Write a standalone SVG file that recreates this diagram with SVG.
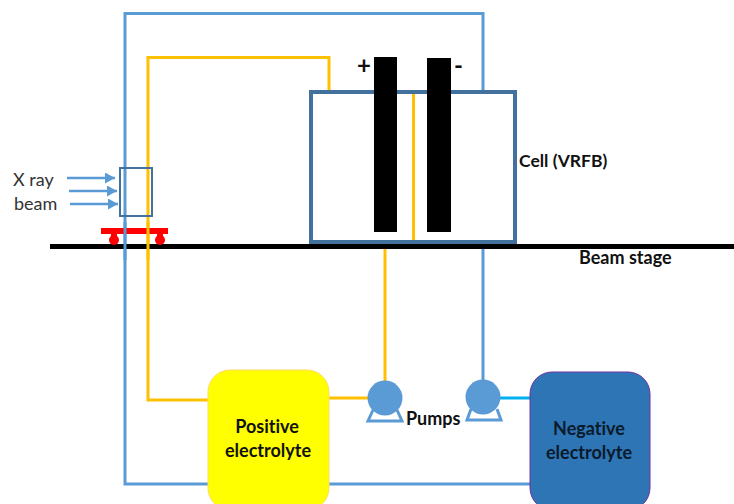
<svg xmlns="http://www.w3.org/2000/svg" width="734" height="504" viewBox="0 0 734 504">
<style>
.y{fill:none;stroke:#ffc000;stroke-width:3}
.b{fill:none;stroke:#5b9bd5;stroke-width:3}
.a{fill:none;stroke:#5b9bd5;stroke-width:2.500;marker-end:url(#ah)}
.t{font-family:Lato,"Open Sans","Liberation Sans",sans-serif;fill:#333;font-size:18px}
.bt{font-family:Lato,"Open Sans","Liberation Sans",sans-serif;font-weight:700;fill:#111;font-size:18px;font-variant-ligatures:none}
</style>
<defs>
<marker id="ah" markerUnits="userSpaceOnUse" markerWidth="12" markerHeight="12" refX="10" refY="5.500" orient="auto"><path d="M0,0L10,5.500L0,11z" fill="#5b9bd5"/></marker>
</defs>
<rect width="734" height="504" fill="#fff"/>
<g id="connectors">
<path class="b" d="M483,92V13.500H125V484H530"/>
<path class="y" d="M329,92V57.500H148V400H208"/>
<path class="y" d="M329,398H385V242"/>
<path class="b" d="M483,242V398"/>
<path d="M500,398H530" fill="none" stroke="#00b0f0" stroke-width="3"/>
<path class="y" d="M413.500,92V242"/>
<path class="a" d="M67,178H115"/>
<path class="a" d="M69,191H117"/>
<path class="a" d="M70,204H118"/>
</g>
<g id="beam-stage">
<path d="M50,246.500H734" stroke="#000" stroke-width="5"/>
<text class="bt" x="579" y="264">Beam stage</text>
</g>
<g id="carriage">
<rect x="101" y="228" width="67" height="6" fill="#f00"/>
<rect x="111" y="233" width="6" height="6" fill="#f00"/>
<rect x="157" y="233" width="6" height="6" fill="#f00"/>
<circle cx="114" cy="240" r="5" fill="#f00"/>
<circle cx="160" cy="240" r="5" fill="#f00"/>
<path class="b" d="M125,222V260"/>
<path class="y" d="M148,222V260"/>
</g>
<g id="sample-box">
<rect x="120" y="168" width="32" height="48" fill="none" stroke="#41719c" stroke-width="2"/>
</g>
<g id="x-ray-label">
<text class="t" x="13" y="186">X ray</text>
<text class="t" x="14" y="210">beam</text>
</g>
<g id="cell">
<rect x="311" y="92" width="204" height="150" fill="none" stroke="#41719c" stroke-width="4"/>
<rect x="374" y="57" width="23" height="175" fill="#000"/>
<rect x="427" y="58" width="24" height="174" fill="#000"/>
<text class="bt" x="357" y="74" style="font-size:24px">+</text>
<text class="bt" x="454" y="74" style="font-size:24px">-</text>
<text class="bt" x="519" y="167" style="font-size:17.500px">Cell (VRFB)</text>
</g>
<g id="positive-electrolyte">
<rect x="208" y="370" width="121" height="140" rx="22" fill="#ffff00" stroke="#ffd966" stroke-width="1"/>
<text class="bt" x="267" y="433" text-anchor="middle">Positive</text>
<text class="bt" x="268" y="457" text-anchor="middle">electrolyte</text>
</g>
<g id="negative-electrolyte">
<rect x="530" y="372" width="120" height="138" rx="22" fill="#2e75b6" stroke="#7030a0" stroke-width="1"/>
<text class="bt" x="589" y="435" text-anchor="middle" style="fill:#0a1a2a">Negative</text>
<text class="bt" x="589" y="459" text-anchor="middle" style="fill:#0a1a2a">electrolyte</text>
</g>
<g id="pump-left">
<path d="M373,410L368,421H402L397,410" fill="none" stroke="#5b9bd5" stroke-width="3"/>
<circle cx="385" cy="398" r="17.500" fill="#5b9bd5"/>
</g>
<g id="pump-right">
<path d="M471,409L467,420H501L497,409" fill="none" stroke="#5b9bd5" stroke-width="3"/>
<circle cx="483" cy="397" r="17.500" fill="#5b9bd5"/>
</g>
<text class="bt" x="406" y="425">Pumps</text>
</svg>
